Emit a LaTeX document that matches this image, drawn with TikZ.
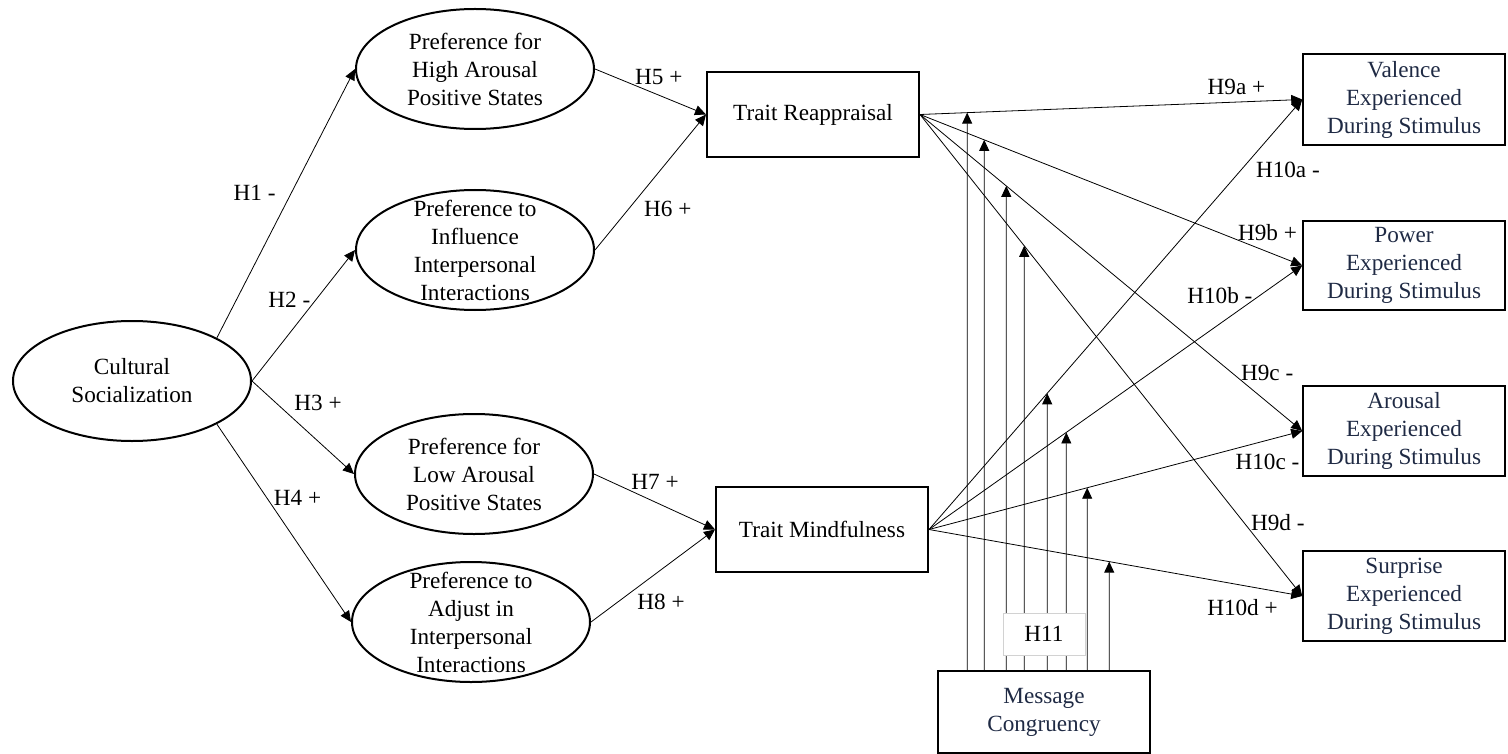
\documentclass[tikz,border=0pt]{standalone}
\usepackage{fontspec}
\setmainfont{Liberation Serif}
\usetikzlibrary{shapes.geometric,arrows.meta,calc}
\definecolor{navytext}{RGB}{31,42,68}
\tikzset{
>={Triangle[length=5.5pt,width=5pt]},
every edge/.append style={->},
line width=0.5pt,
latent/.style={ellipse, draw, line width=1pt, minimum width=119pt, minimum height=60pt, inner sep=0pt, inner ysep=-6pt, align=center},
construct/.style={rectangle, draw, line width=1pt, minimum width=106pt, minimum height=42.5pt, align=center},
outcome/.style={rectangle, draw, line width=0.8pt, minimum width=101pt, minimum height=42.5pt, align=center, text=navytext},
hlab/.style={inner sep=0pt},
}

\begin{document}
\begin{tikzpicture}[x=0.5pt, y=-0.5pt, font=\fontsize{11.6}{14}\selectfont]
        \useasboundingbox (0,0) rectangle (1508,754);

        \node[latent] (cult) at (132,381) {Cultural\\Socialization};
        \node[latent] (hap) at (475,69) {Preference for\\High Arousal\\Positive States};
        \node[latent] (infl) at (475,250) {Preference to\\Influence\\Interpersonal\\Interactions};
        \node[latent] (lap) at (474,474) {Preference for\\Low Arousal\\Positive States};
        \node[latent] (adj) at (471,622) {Preference to\\Adjust in\\Interpersonal\\Interactions};

        \node[construct] (tr) at (813,114.5) {Trait Reappraisal};
        \node[construct] (tm) at (822,529.5) {Trait Mindfulness};

        \node[outcome] (val) at (1404,99.5) {Valence\\Experienced\\During Stimulus};
        \node[outcome] (pow) at (1404,265.5) {Power\\Experienced\\During Stimulus};
        \node[outcome] (aro) at (1404,431) {Arousal\\Experienced\\During Stimulus};
        \node[outcome] (sur) at (1404,596) {Surprise\\Experienced\\During Stimulus};
        \node[outcome, minimum width=106pt, minimum height=41pt] (mc) at (1044,712) {Message\\Congruency};

        \draw (cult.north east) edge node[hlab, pos=.541, left=7.8pt] {H1 -} (hap.west);
        \draw (cult.east) edge node[hlab, pos=.618, left=2.5pt] {H2 -} (infl.west);
        \draw (cult.east) edge node[hlab, pos=.237, right=8.9pt] {H3 +} (lap.west);
        \draw (cult.south east) edge node[hlab, pos=.372, right=3.4pt] {H4 +} (adj.west);

        \draw (hap.east) edge node[hlab, pos=.575, above=5.2pt] {H5 +} (tr.west);
        \draw (infl.east) edge node[hlab, pos=.303, right=7.6pt] {H6 +} (tr.west);
        \draw (lap.east) edge node[hlab, pos=.504, above=6.1pt] {H7 +} (tm.west);
        \draw (adj.east) edge node[hlab, pos=.216, right=9.6pt] {H8 +} (tm.west);

        \draw (tr.east) edge node[hlab, pos=.828, above=3.7pt] {H9a +} (val.west);
        \draw (tr.east) edge node[hlab, pos=.909, above=5.5pt] {H9b +} (pow.west);
        \draw (tr.east) edge node[hlab, pos=.817, right=4.2pt] {H9c -} (aro.west);
        \draw (tr.east) edge node[hlab, pos=.848, right=3.3pt] {H9d -} (sur.west);

        \draw (tm.east) edge node[hlab, pos=.836, right=7.3pt] {H10a -} (val.west);
        \draw (tm.east) edge node[hlab, pos=.888, left=3.8pt] {H10b -} (pow.west);
        \draw (tm.east) edge node[hlab, pos=.907, below=7pt] {H10c -} (aro.west);
        \draw (tm.east) edge node[hlab, pos=.84, below=6.9pt] {H10d +} (sur.west);

        % moderation by message congruency
        \coordinate (m1) at ($(mc.north west)+(30,0)$);
        \coordinate (m2) at ($(mc.north west)+(47,0)$);
        \coordinate (m3) at ($(mc.north west)+(69,0)$);
        \coordinate (m4) at ($(mc.north west)+(87,0)$);
        \coordinate (m5) at ($(mc.north west)+(110,0)$);
        \coordinate (m6) at ($(mc.north west)+(129,0)$);
        \coordinate (m7) at ($(mc.north west)+(150,0)$);
        \coordinate (m8) at ($(mc.north west)+(172,0)$);

        \draw[->] (m1) -- (intersection of tr.east--val.west and m1--m1|-tr.north);
        \draw[->] (m2) -- (intersection of tr.east--pow.west and m2--m2|-tr.north);
        \draw[->] (m3) -- (intersection of tr.east--aro.west and m3--m3|-tr.north);
        \draw[->] (m4) -- (intersection of tr.east--sur.west and m4--m4|-tr.north);
        \draw[->] (m5) -- (intersection of tm.east--val.west and m5--m5|-tr.north);
        \draw[->] (m6) -- (intersection of tm.east--pow.west and m6--m6|-tr.north);
        \draw[->] (m7) -- (intersection of tm.east--aro.west and m7--m7|-tr.north);
        \draw[->] (m8) -- (intersection of tm.east--sur.west and m8--m8|-tr.north);

        \node[draw=gray!35, fill=white, line width=0.4pt, minimum width=41pt, minimum height=21pt] (h11) at (1044,634) {H11};

    \end{tikzpicture}
\end{document}
